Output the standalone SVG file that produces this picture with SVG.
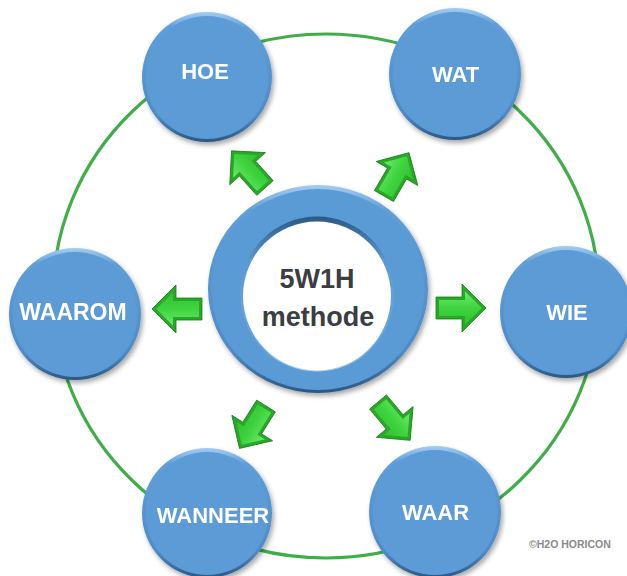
<svg xmlns="http://www.w3.org/2000/svg" width="627" height="576" viewBox="0 0 627 576">
  <defs>
    <style>
      .orbit { fill: none; stroke: #3fae49; stroke-width: 3.2; }
      .rim { fill: url(#rimGrad); }
      .face { fill: #5b9bd5; }
      .label { font-family: "Liberation Sans", Arial, sans-serif; font-weight: bold; font-size: 22px; fill: #ffffff; text-anchor: middle; }
      .title { font-family: "Liberation Sans", Arial, sans-serif; font-weight: bold; font-size: 27px; fill: #3a3d42; text-anchor: middle; }
      .credit { font-family: "Liberation Sans", Arial, sans-serif; font-weight: bold; font-size: 10.5px; fill: #8a8a8a; }
      .arrow-edge { fill: #27a827; stroke: #1a7d1a; stroke-width: 0.8; }
      .arrow-face { fill: url(#arrowGrad); }
    </style>
    <linearGradient id="rimGrad" x1="0" y1="0" x2="0" y2="1">
      <stop offset="0" stop-color="#a4cdf2"/>
      <stop offset="0.12" stop-color="#5f9fd9"/>
      <stop offset="0.8" stop-color="#4f8bc6"/>
      <stop offset="1" stop-color="#2b5782"/>
    </linearGradient>
    <linearGradient id="holeGrad" x1="0" y1="0" x2="0" y2="1">
      <stop offset="0" stop-color="#2c5985"/>
      <stop offset="0.3" stop-color="#5b9bd5"/>
      <stop offset="0.85" stop-color="#6aa8e0"/>
      <stop offset="1" stop-color="#b2d6f6"/>
    </linearGradient>
    <linearGradient id="arrowGrad" gradientUnits="userSpaceOnUse" x1="0" y1="-24" x2="0" y2="24">
      <stop offset="0" stop-color="#7ef27e"/>
      <stop offset="0.5" stop-color="#3fd43f"/>
      <stop offset="1" stop-color="#2bb52b"/>
    </linearGradient>
    <filter id="shadow" x="-20%" y="-20%" width="140%" height="140%">
      <feGaussianBlur in="SourceAlpha" stdDeviation="2.5"/>
      <feOffset dx="1.5" dy="3" result="blur"/>
      <feComponentTransfer><feFuncA type="linear" slope="0.35"/></feComponentTransfer>
      <feMerge><feMergeNode/><feMergeNode in="SourceGraphic"/></feMerge>
    </filter>
    <g id="arrow">
      <polygon class="arrow-edge" points="0,-11 26,-11 26,-24 50,0 26,24 26,11 0,11"/>
      <polygon class="arrow-face" points="3,-8 29,-8 29,-16.8 45.8,0 29,16.8 29,8 3,8"/>
    </g>
  </defs>

  <rect width="627" height="576" fill="#ffffff"/>

  <!-- connector ring through the six question nodes -->
  <g id="connectors">
    <ellipse class="orbit" cx="326" cy="296" rx="273" ry="262"/>
  </g>

  <!-- question nodes -->
  <g id="node-hoe" filter="url(#shadow)">
    <circle class="rim" cx="207" cy="77" r="65"/>
    <circle class="face" cx="207" cy="77.5" r="61.5"/>
    <text class="label" x="205" y="79">HOE</text>
  </g>
  <g id="node-wat" filter="url(#shadow)">
    <circle class="rim" cx="455" cy="74" r="66"/>
    <circle class="face" cx="455" cy="74.5" r="62.5"/>
    <text class="label" x="455.5" y="82">WAT</text>
  </g>
  <g id="node-waarom" filter="url(#shadow)">
    <circle class="rim" cx="75" cy="314" r="66"/>
    <circle class="face" cx="75" cy="314.5" r="62.5"/>
    <text class="label" x="73" y="320" style="font-size:23px">WAAROM</text>
  </g>
  <g id="node-wie" filter="url(#shadow)">
    <circle class="rim" cx="566" cy="312" r="66"/>
    <circle class="face" cx="566" cy="312.5" r="62.5"/>
    <text class="label" x="567" y="320">WIE</text>
  </g>
  <g id="node-wanneer" filter="url(#shadow)">
    <circle class="rim" cx="207" cy="513" r="65"/>
    <circle class="face" cx="207" cy="513.5" r="61.5"/>
    <text class="label" x="213" y="523">WANNEER</text>
  </g>
  <g id="node-waar" filter="url(#shadow)">
    <circle class="rim" cx="435" cy="512" r="66"/>
    <circle class="face" cx="435" cy="512.5" r="62.5"/>
    <text class="label" x="435.5" y="520">WAAR</text>
  </g>

  <!-- central hub -->
  <g id="node-center">
    <g filter="url(#shadow)">
      <ellipse class="rim" cx="318" cy="289" rx="110" ry="104"/>
    </g>
    <ellipse class="face" cx="318" cy="289.5" rx="106.5" ry="100.5"/>
    <ellipse fill="url(#holeGrad)" cx="317" cy="294" rx="77" ry="77.5"/>
    <ellipse fill="#ffffff" cx="317" cy="296" rx="74" ry="74.5"/>
    <text class="title" x="317" y="288">5W1H</text>
    <text class="title" x="318" y="326">methode</text>
  </g>

  <!-- direction arrows from the hub -->
  <g id="arrows">
    <use href="#arrow" transform="translate(265,188) rotate(-132)"/>
    <use href="#arrow" transform="translate(384,196) rotate(-60)"/>
    <use href="#arrow" transform="translate(202,309) rotate(180)"/>
    <use href="#arrow" transform="translate(436,308)"/>
    <use href="#arrow" transform="translate(266,406) rotate(122)"/>
    <use href="#arrow" transform="translate(378,402) rotate(50)"/>
  </g>

  <text class="credit" x="529" y="548">©H2O HORICON</text>
</svg>
